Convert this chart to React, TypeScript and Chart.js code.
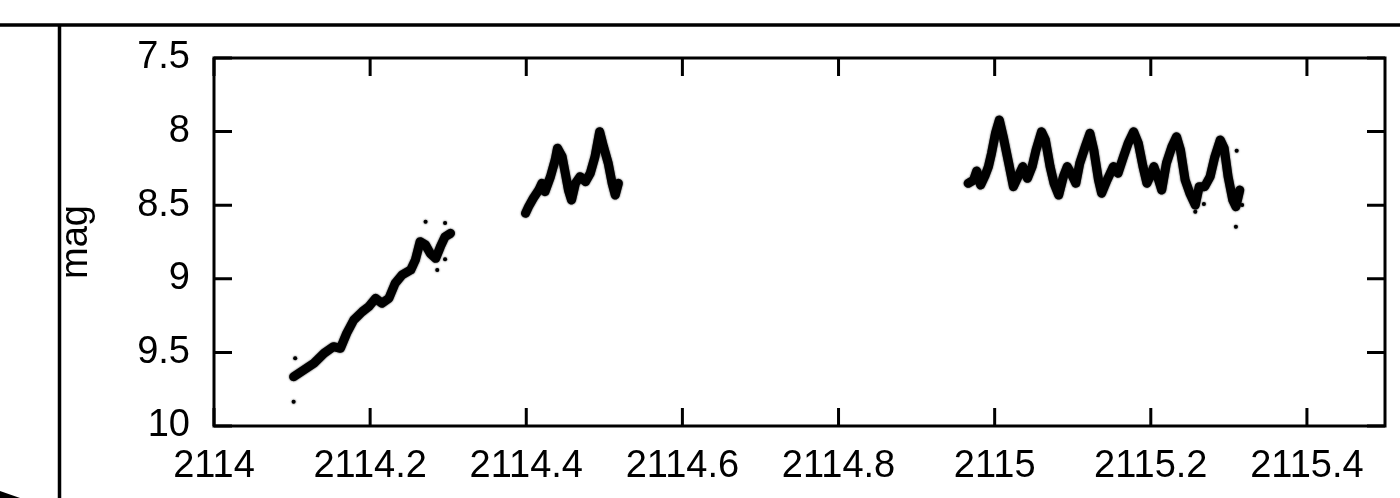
import React, { useEffect, useRef } from "react";
import { Chart, registerables } from "chart.js";

Chart.register(...registerables);

// ---- data ----
const seg1X = [2114.102, 2114.115, 2114.128, 2114.141, 2114.153, 2114.162, 2114.170, 2114.179, 2114.190, 2114.198, 2114.207, 2114.215, 2114.224, 2114.232, 2114.241, 2114.252, 2114.258, 2114.264, 2114.271, 2114.277, 2114.284, 2114.290, 2114.296, 2114.303];
const seg1Y = [9.665, 9.62, 9.574, 9.506, 9.461, 9.472, 9.37, 9.28, 9.223, 9.19, 9.133, 9.166, 9.133, 9.031, 8.974, 8.94, 8.872, 8.748, 8.77, 8.827, 8.861, 8.782, 8.714, 8.691];

const seg2X = [2114.399, 2114.403, 2114.409, 2114.416, 2114.420, 2114.424, 2114.431, 2114.437, 2114.440, 2114.446, 2114.450, 2114.454, 2114.458, 2114.463, 2114.469, 2114.476, 2114.482, 2114.488, 2114.494, 2114.499, 2114.505, 2114.510, 2114.514, 2114.518];
const seg2Y = [8.555, 8.51, 8.453, 8.397, 8.351, 8.408, 8.306, 8.193, 8.113, 8.171, 8.283, 8.397, 8.465, 8.351, 8.306, 8.34, 8.283, 8.171, 8.001, 8.103, 8.215, 8.351, 8.431, 8.351];

const seg3X = [2114.966, 2114.973, 2114.977, 2114.982, 2114.988, 2114.992, 2114.996, 2115.001, 2115.006, 2115.011, 2115.018, 2115.024, 2115.030, 2115.036, 2115.042, 2115.048, 2115.053, 2115.060, 2115.065, 2115.071, 2115.076, 2115.082, 2115.088, 2115.093, 2115.099, 2115.104, 2115.109, 2115.116, 2115.122, 2115.127, 2115.133, 2115.137, 2115.144, 2115.152, 2115.158, 2115.165, 2115.171, 2115.178, 2115.184, 2115.190, 2115.195, 2115.199, 2115.204, 2115.210, 2115.214, 2115.220, 2115.227, 2115.233, 2115.238, 2115.244, 2115.250, 2115.257, 2115.262, 2115.269, 2115.276, 2115.282, 2115.289, 2115.294, 2115.299, 2115.305, 2115.309, 2115.314];
const seg3Y = [8.351, 8.329, 8.268, 8.363, 8.295, 8.238, 8.147, 8.012, 7.921, 8.035, 8.215, 8.374, 8.306, 8.238, 8.317, 8.238, 8.125, 8.001, 8.057, 8.238, 8.351, 8.431, 8.306, 8.238, 8.295, 8.351, 8.215, 8.103, 8.012, 8.125, 8.329, 8.419, 8.329, 8.238, 8.283, 8.171, 8.079, 8.001, 8.079, 8.238, 8.351, 8.306, 8.238, 8.329, 8.397, 8.215, 8.103, 8.035, 8.125, 8.329, 8.419, 8.499, 8.374, 8.374, 8.306, 8.171, 8.057, 8.113, 8.306, 8.465, 8.51, 8.397];

const outlierX = [2114.102, 2114.104, 2114.271, 2114.296, 2114.286, 2114.296, 2115.310, 2115.309, 2115.317, 2115.268, 2115.257];
const outlierY = [9.835, 9.54, 8.612, 8.621, 8.94, 8.868, 8.13, 8.646, 8.499, 8.492, 8.544];

const xTicks = [2114, 2114.2, 2114.4, 2114.6, 2114.8, 2115, 2115.2, 2115.4];
const xTickLabels = ["2114", "2114.2", "2114.4", "2114.6", "2114.8", "2115", "2115.2", "2115.4"];
const yTicks = [7.5, 8, 8.5, 9, 9.5, 10];
const yTickLabels = ["7.5", "8", "8.5", "9", "9.5", "10"];
const yTitle = "mag";

const FONT = '"Liberation Sans", Arial, Helvetica, sans-serif';

function pts(xs: number[], ys: number[]) {
  return xs.map((x, i) => ({ x, y: ys[i] }));
}

const framePlugin = {
  id: "gnuframe",
  beforeDraw(chart: any) {
    const { ctx } = chart;
    ctx.save();
    ctx.fillStyle = "#fff";
    ctx.fillRect(0, 0, chart.width, chart.height);
    ctx.restore();
  },
  beforeDatasetsDraw(chart: any) {
    const { ctx } = chart;
    ctx.save();
    ctx.shadowColor = "rgba(0,0,0,0.8)";
    ctx.shadowBlur = 2;
  },
  afterDatasetsDraw(chart: any) {
    const { ctx, chartArea: a, scales } = chart;
    ctx.restore();
    ctx.save();
    ctx.strokeStyle = "#000";
    ctx.fillStyle = "#000";
    ctx.lineWidth = 3;
    ctx.strokeRect(a.left, a.top, a.right - a.left, a.bottom - a.top);
    const tl = 18;
    ctx.beginPath();
    for (const v of xTicks) {
      const px = scales.x.getPixelForValue(v);
      ctx.moveTo(px, a.bottom);
      ctx.lineTo(px, a.bottom - tl);
      ctx.moveTo(px, a.top);
      ctx.lineTo(px, a.top + tl);
    }
    for (const v of yTicks) {
      const py = scales.y.getPixelForValue(v);
      ctx.moveTo(a.left, py);
      ctx.lineTo(a.left + tl, py);
      ctx.moveTo(a.right, py);
      ctx.lineTo(a.right - tl, py);
    }
    ctx.stroke();

    // page decorations (frame lines around the figure panel)
    ctx.lineWidth = 3.5;
    ctx.beginPath();
    ctx.moveTo(0, 25);
    ctx.lineTo(chart.width, 25);
    ctx.moveTo(59.5, 25);
    ctx.lineTo(59.5, chart.height);
    ctx.stroke();
    ctx.beginPath();
    ctx.moveTo(0, 491);
    ctx.lineTo(20, 498);
    ctx.lineTo(0, 498);
    ctx.closePath();
    ctx.fill();

    // y axis title
    ctx.font = `38px ${FONT}`;
    ctx.textAlign = "center";
    ctx.textBaseline = "alphabetic";
    ctx.translate(87, (a.top + a.bottom) / 2);
    ctx.rotate(-Math.PI / 2);
    ctx.fillText(yTitle, 0, 0);
    ctx.restore();
  },
};

export default function App() {
  const ref = useRef<HTMLCanvasElement | null>(null);

  useEffect(() => {
    if (!ref.current) return;
    const lineDs = (xs: number[], ys: number[]) => ({
      type: "line" as const,
      data: pts(xs, ys),
      borderColor: "#000",
      backgroundColor: "#000",
      borderWidth: 9,
      borderJoinStyle: "round" as const,
      borderCapStyle: "round" as const,
      pointRadius: 0,
      tension: 0,
      fill: false,
    });
    const chart = new Chart(ref.current, {
      type: "line",
      data: {
        datasets: [
          lineDs(seg1X, seg1Y),
          lineDs(seg2X, seg2Y),
          lineDs(seg3X, seg3Y),
          {
            type: "scatter" as const,
            data: pts(outlierX, outlierY),
            borderColor: "#000",
            backgroundColor: "#000",
            pointRadius: 2,
            borderWidth: 0,
            showLine: false,
          } as any,
        ],
      },
      options: {
        animation: false,
        responsive: false,
        devicePixelRatio: 1,
        layout: { padding: { left: 0, top: 58, right: 15, bottom: 0 } },
        plugins: { legend: { display: false }, tooltip: { enabled: false } },
        scales: {
          x: {
            type: "linear",
            min: 2114,
            max: 2115.5,
            grid: { display: false, drawTicks: false },
            border: { display: false },
            afterFit: (s: any) => {
              s.height = 72;
            },
            afterBuildTicks: (s: any) => {
              s.ticks = xTicks.map((v) => ({ value: v }));
            },
            ticks: {
              autoSkip: false,
              maxRotation: 0,
              minRotation: 0,
              padding: 18,
              color: "#000",
              font: { size: 38, family: FONT },
              callback: (v: any) => {
                const i = xTicks.findIndex((t) => Math.abs(t - Number(v)) < 1e-6);
                return i >= 0 ? xTickLabels[i] : "";
              },
            },
          },
          y: {
            type: "linear",
            reverse: true,
            min: 7.5,
            max: 10,
            grid: { display: false, drawTicks: false },
            border: { display: false },
            afterFit: (s: any) => {
              s.width = 214;
            },
            afterBuildTicks: (s: any) => {
              s.ticks = yTicks.map((v) => ({ value: v }));
            },
            ticks: {
              autoSkip: false,
              padding: 24,
              color: "#000",
              font: { size: 38, family: FONT },
              callback: (v: any) => {
                const i = yTicks.findIndex((t) => Math.abs(t - Number(v)) < 1e-6);
                return i >= 0 ? yTickLabels[i] : "";
              },
            },
          },
        },
      },
      plugins: [framePlugin],
    } as any);
    return () => chart.destroy();
  }, []);

  return (
    <div style={{ position: "fixed", left: 0, top: 0, width: 1400, height: 498, background: "#fff" }}>
      <canvas ref={ref} width={1400} height={498} style={{ display: "block", width: 1400, height: 498 }} />
    </div>
  );
}
